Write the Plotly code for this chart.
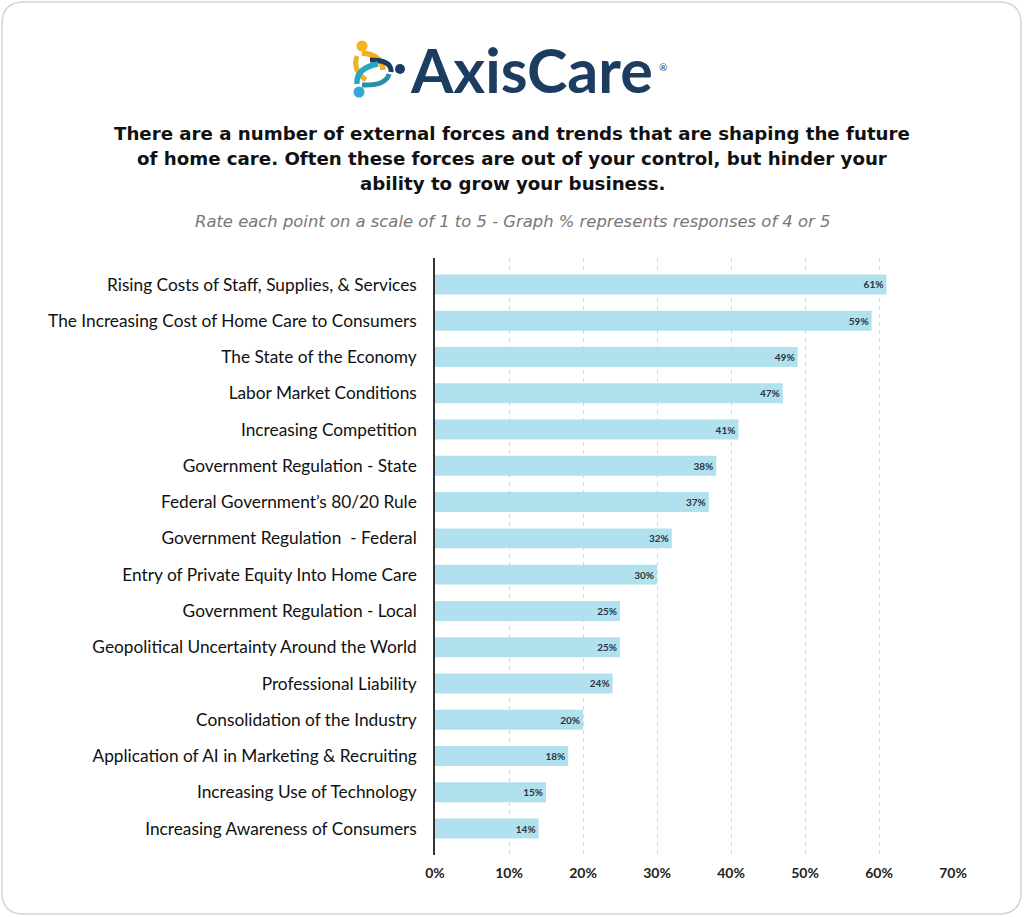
import plotly.graph_objects as go

categories = [
    "Rising Costs of Staff, Supplies, & Services",
    "The Increasing Cost of Home Care to Consumers",
    "The State of the Economy",
    "Labor Market Conditions",
    "Increasing Competition",
    "Government Regulation - State",
    "Federal Government\u2019s 80/20 Rule",
    "Government Regulation  - Federal",
    "Entry of Private Equity Into Home Care",
    "Government Regulation - Local",
    "Geopolitical Uncertainty Around the World",
    "Professional Liability",
    "Consolidation of the Industry",
    "Application of AI in Marketing & Recruiting",
    "Increasing Use of Technology",
    "Increasing Awareness of Consumers",
]
values = [61, 59, 49, 47, 41, 38, 37, 32, 30, 25, 25, 24, 20, 18, 15, 14]
x_ticks = [0, 10, 20, 30, 40, 50, 60, 70]
x_tick_labels = [f"{v}%" for v in x_ticks]

W, H = 1024, 917
ML, MR, MT, MB = 435, 71, 258, 62
PW, PH = W - ML - MR, H - MT - MB


def px(x):
    return (x - ML) / PW


def py(y):
    return (H - MB - y) / PH


fig = go.Figure()
fig.add_trace(go.Bar(
    y=categories,
    x=values,
    orientation="h",
    marker=dict(color="#b1e1ee", line=dict(width=0)),
    width=0.55,
    text=[f"{v}%" for v in values],
    textposition="inside",
    insidetextanchor="end",
    textfont=dict(family="Lato", size=10, color="#2b3440", weight="bold"),
    cliponaxis=False,
    hoverinfo="skip",
))

shapes = []
# outer rounded card border
x0, y0, x1, y1, r = 2, 2, 1021, 914, 22
path = (
    f"M {px(x0 + r)} {py(y0)} L {px(x1 - r)} {py(y0)} "
    f"Q {px(x1)} {py(y0)} {px(x1)} {py(y0 + r)} "
    f"L {px(x1)} {py(y1 - r)} Q {px(x1)} {py(y1)} {px(x1 - r)} {py(y1)} "
    f"L {px(x0 + r)} {py(y1)} Q {px(x0)} {py(y1)} {px(x0)} {py(y1 - r)} "
    f"L {px(x0)} {py(y0 + r)} Q {px(x0)} {py(y0)} {px(x0 + r)} {py(y0)} Z"
)
shapes.append(dict(type="path", xref="paper", yref="paper", path=path,
                   line=dict(color="#d4d4d4", width=1.5), layer="below"))


# logo icon (approximation)
def arc(pts, color, width):
    (ax, ay), (cx, cy), (bx, by) = pts
    return dict(type="path", xref="paper", yref="paper",
                path=f"M {px(ax)} {py(ay)} Q {px(cx)} {py(cy)} {px(bx)} {py(by)}",
                line=dict(color=color, width=width))


shapes.append(arc([(357, 56), (352, 70), (366, 80)], "#e9b42a", 5))
shapes.append(arc([(362, 53), (382, 55), (383, 70)], "#f2b01e", 5.5))
shapes.append(arc([(370, 60), (392, 60), (391, 72)], "#1c3d60", 5))
shapes.append(arc([(357, 84), (356, 68), (378, 64)], "#2aa6c2", 5.5))
shapes.append(arc([(362, 85), (386, 86), (389, 74)], "#2a8fa8", 5))
for cx_, cy_, rr, col in [(362, 46, 5.5, "#f4b31f"), (359, 92, 5.5, "#30a9d2"),
                          (400, 69, 5, "#1c3d60")]:
    shapes.append(dict(type="circle", xref="paper", yref="paper",
                       x0=px(cx_ - rr), x1=px(cx_ + rr), y0=py(cy_ + rr), y1=py(cy_ - rr),
                       fillcolor=col, line=dict(width=0)))

annotations = [
    dict(text="AxisCare", x=px(408), y=py(70), xanchor="left", yanchor="middle",
         font=dict(family="Lato", size=61, color="#1c3d60", weight="bold")),
    dict(text="\u00ae", x=px(657), y=py(67), xanchor="left", yanchor="middle",
         font=dict(family="Lato", size=10, color="#1c3d60")),
]
title_lines = [
    "There are a number of external forces and trends that are shaping the future",
    "of home care. Often these forces are out of your control, but hinder your",
    "ability to grow your business.",
]
for i, line in enumerate(title_lines):
    annotations.append(dict(text=line, x=px(512), y=py(133 + 25 * i),
                            xanchor="center", yanchor="middle",
                            font=dict(family="DejaVu Sans", size=18.2, color="#111111",
                                      weight="bold")))
annotations.append(dict(
    text="<i>Rate each point on a scale of 1 to 5 - Graph % represents responses of 4 or 5</i>",
    x=px(512), y=py(222), xanchor="center", yanchor="middle",
    font=dict(family="DejaVu Sans", size=16.4, color="#777777")))
for a in annotations:
    a.update(xref="paper", yref="paper", showarrow=False)

fig.update_layout(
    width=W, height=H,
    margin=dict(l=ML, r=MR, t=MT, b=MB, pad=0),
    paper_bgcolor="white", plot_bgcolor="white",
    showlegend=False,
    bargap=0.45,
    shapes=shapes,
    annotations=annotations,
    xaxis=dict(range=[0, 70], tickvals=x_ticks, ticktext=x_tick_labels,
               showgrid=True, gridcolor="#d6d6d6", griddash="4px,4px", gridwidth=1,
               zeroline=False, showline=False, ticks="outside", ticklen=5,
               tickcolor="rgba(0,0,0,0)",
               tickfont=dict(family="Lato", size=14, color="#222222", weight="bold"),
               fixedrange=True),
    yaxis=dict(categoryorder="array", categoryarray=categories[::-1],
               range=[-0.73, len(categories) - 0.27],
               showgrid=False, zeroline=False, showline=True, linecolor="#333333",
               linewidth=1.5, ticks="outside", ticklen=13, tickcolor="rgba(0,0,0,0)",
               tickfont=dict(family="Lato", size=17.3, color="#111111"),
               fixedrange=True),
)

fig.write_html("out.html", config={"displayModeBar": False},
               post_script="document.body.style.margin='0';document.body.style.overflow='hidden';")
